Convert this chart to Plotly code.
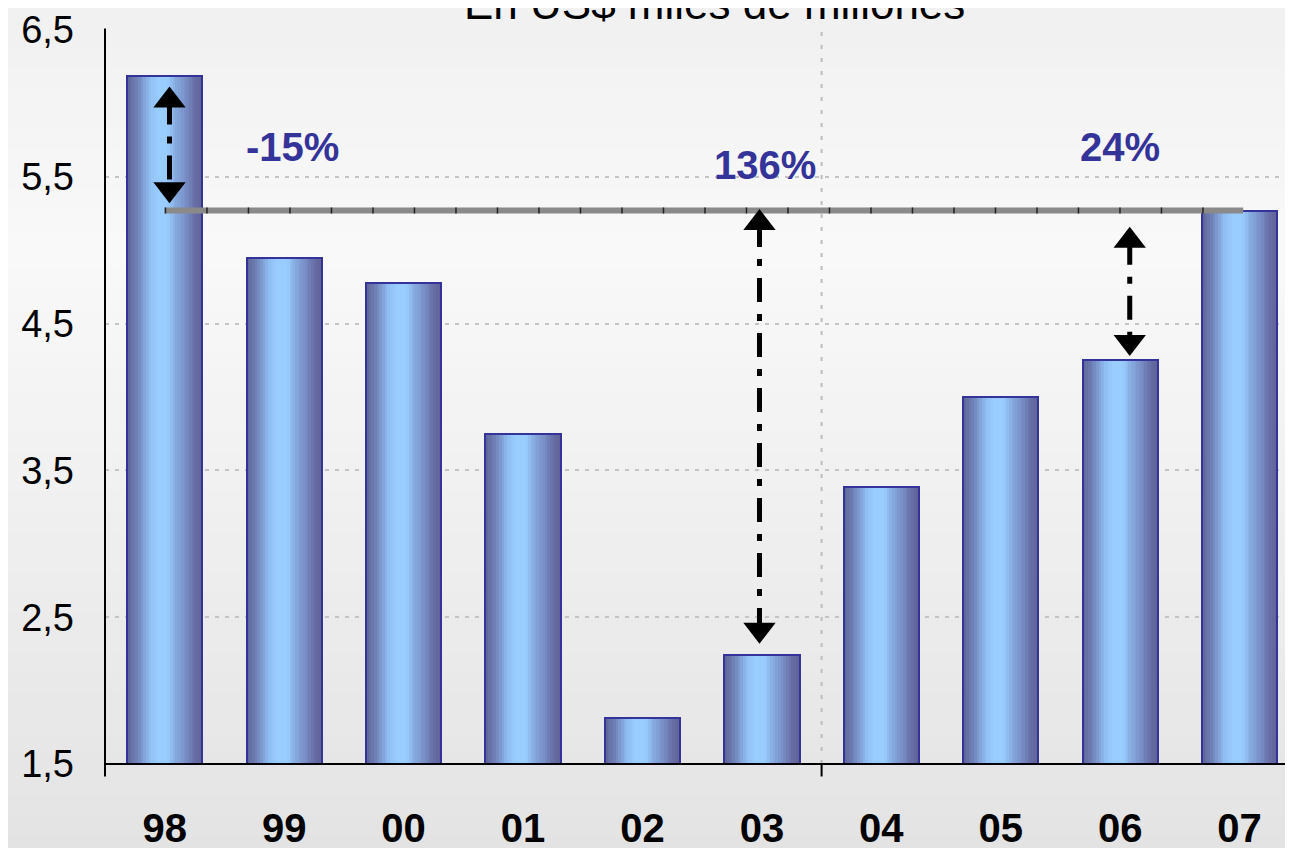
import plotly.graph_objects as go

# data
years = ["98", "99", "00", "01", "02", "03", "04", "05", "06", "07"]
values = [6.19, 4.95, 4.78, 3.75, 1.81, 2.24, 3.39, 4.00, 4.25, 5.27]
pct_labels = ["-15%", "136%", "24%"]
y_ticks = [1.5, 2.5, 3.5, 4.5, 5.5, 6.5]

idx = list(range(len(years)))
ref = values[-1]          # level of 07, used for the comparison line

FONT = "Liberation Sans, Arial, sans-serif"
BAR_W = 0.63
N_SLICES = 28

# horizontal gradient of the bars (position, rgb)
grad = [(0.00, (94, 100, 150)), (0.12, (110, 126, 180)), (0.30, (143, 189, 242)),
        (0.40, (153, 204, 255)), (0.54, (153, 204, 255)), (0.64, (134, 172, 224)),
        (0.78, (120, 142, 198)), (0.90, (104, 110, 166)), (1.00, (96, 98, 148))]


def grad_color(t):
    for (p0, c0), (p1, c1) in zip(grad[:-1], grad[1:]):
        if p0 <= t <= p1:
            f = (t - p0) / (p1 - p0) if p1 > p0 else 0
            c = [round(a + (b - a) * f) for a, b in zip(c0, c1)]
            return "rgb(%d,%d,%d)" % tuple(c)
    return "rgb(%d,%d,%d)" % grad[-1][1]


fig = go.Figure()

# bars built from thin slices to get the shaded look
sw = BAR_W / N_SLICES
for i in range(N_SLICES):
    fig.add_trace(go.Bar(
        x=idx, y=values, width=sw * 1.15, offset=-BAR_W / 2 + i * sw,
        marker=dict(color=grad_color((i + 0.5) / N_SLICES), line=dict(width=0)),
        hoverinfo="skip", showlegend=False))

# bar outlines
fig.add_trace(go.Bar(
    x=idx, y=values, width=BAR_W,
    marker=dict(color="rgba(0,0,0,0)", line=dict(color="#333399", width=2)),
    showlegend=False))

# comparison line at the 07 level
fig.add_trace(go.Scatter(x=[0, 9.03], y=[ref, ref], mode="lines",
                         line=dict(color="#8a8a8a", width=6), hoverinfo="skip", showlegend=False))
fig.add_trace(go.Scatter(x=[0, 9.03], y=[ref, ref], mode="lines",
                         line=dict(color="#222222", width=6, dash="1.5px,40px"),
                         hoverinfo="skip", showlegend=False))

# dash-dot double arrows: (x, top tip, bottom tip)
arrows = [
    (0.04, values[0] - 0.085, ref + 0.06),
    (4.98, ref, values[5] + 0.09),
    (8.08, ref - 0.12, values[8] + 0.04),
]
head = 0.085
for ax_, top, bot in arrows:
    fig.add_trace(go.Scatter(
        x=[ax_, ax_], y=[top - head, bot + head], mode="lines",
        line=dict(color="black", width=5, dash="24px,12px,7px,12px"),
        hoverinfo="skip", showlegend=False))
    fig.add_trace(go.Scatter(
        x=[ax_, ax_], y=[top - head, bot + head], mode="markers",
        marker=dict(symbol=["triangle-up", "triangle-down"], size=28, color="black",
                    line=dict(width=0)),
        hoverinfo="skip", showlegend=False))

# percentage labels
pct_pos = [(1.07, 5.70), (5.03, 5.58), (8.0, 5.70)]
for txt, (px, py) in zip(pct_labels, pct_pos):
    fig.add_annotation(x=px, y=py, text="<b>%s</b>" % txt, showarrow=False,
                       font=dict(family=FONT, size=40, color="#333399"))

# background gradient strips (whole figure, paper coords)
H, PT, PB = 848, 22, 756
stops = [(-8, 240), (242, 249), (848, 227)]
n_strips = 42
for s in range(n_strips):
    y0p = s * H / n_strips
    y1p = (s + 1) * H / n_strips
    ym = (y0p + y1p) / 2
    for (a, ca), (b, cb) in zip(stops[:-1], stops[1:]):
        if a <= ym <= b:
            g = round(ca + (cb - ca) * (ym - a) / (b - a))
    fig.add_shape(type="rect", xref="paper", yref="paper", layer="below",
                  x0=-0.1, x1=1.02,
                  y0=(PB - y1p) / (PB - PT), y1=(PB - y0p) / (PB - PT) + 0.001,
                  fillcolor="rgb(%d,%d,%d)" % (g, g, g), line=dict(width=0))

# vertical dotted divider between 03 and 04
fig.add_shape(type="line", xref="x", yref="paper", x0=5.5, x1=5.5, y0=0, y1=1,
              line=dict(color="#bdbdbd", width=2, dash="4px,9px"), layer="below")
# axis lines and ticks
fig.add_shape(type="line", xref="paper", yref="paper", x0=0, x1=0, y0=-0.017, y1=1.002,
              line=dict(color="black", width=2))
fig.add_shape(type="line", xref="paper", yref="paper", x0=0, x1=1.01, y0=0, y1=0,
              line=dict(color="black", width=2))
fig.add_shape(type="line", xref="x", yref="paper", x0=5.5, x1=5.5, y0=0, y1=-0.017,
              line=dict(color="black", width=2))

# title, partly cut off at the top like the source
fig.add_annotation(x=0.513, y=1.0, xref="paper", yref="paper", yanchor="bottom",
                   text="En US$ miles de millones", showarrow=False,
                   font=dict(family=FONT, size=44, color="black"))

fig.update_layout(
    width=1293, height=848,
    margin=dict(l=97, r=8, t=22, b=92, autoexpand=False),
    barmode="overlay", bargap=0,
    separators=",.",
    paper_bgcolor="#eeeeee", plot_bgcolor="rgba(0,0,0,0)",
    showlegend=False,
    xaxis=dict(range=[-0.5, 9.447], tickvals=idx, ticktext=["<b>%s</b>" % y for y in years],
               showgrid=False, zeroline=False, showline=False, ticks="",
               automargin=False, ticklabelstandoff=37,
               tickfont=dict(family=FONT, size=40, color="black")),
    yaxis=dict(range=[1.5, 6.5], tickvals=y_ticks, tickformat=".1f",
               showgrid=True, gridcolor="#c4c4c4", griddash="4px,6px", gridwidth=2,
               zeroline=False, showline=False, ticks="",
               automargin=False, ticklabelstandoff=30,
               tickfont=dict(family=FONT, size=38, color="black")),
)

fig.write_html("out.html")
